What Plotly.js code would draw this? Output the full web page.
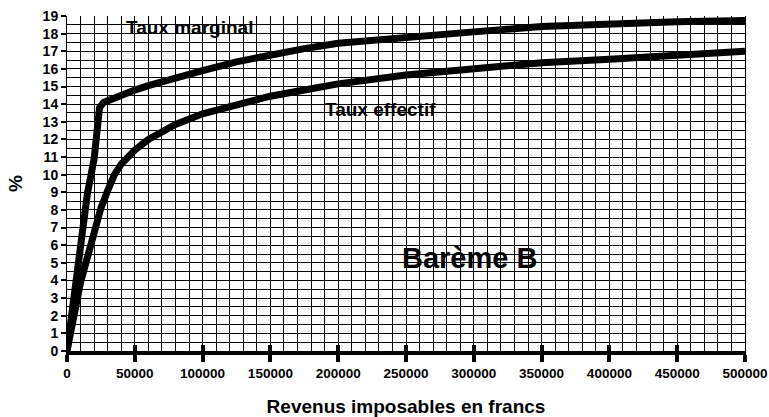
<!DOCTYPE html>
<html>
<head>
<meta charset="utf-8">
<script src="https://cdn.plot.ly/plotly-3.0.1.min.js"></script>
<style>html,body{margin:0;padding:0;background:#fff;}#chart{width:769px;height:417px;}</style>
</head>
<body>
<div id="chart"></div>
<script>
// Revenus imposables (francs)
const revMarginal = [0, 5000, 10000, 15000, 20000, 22000, 24000, 27000, 30000, 40000, 50000, 60000, 80000, 100000, 125000, 150000, 175000, 200000, 250000, 300000, 350000, 400000, 450000, 500000];
const tauxMarginal = [0, 3.1, 6.0, 8.9, 10.9, 12.7, 13.8, 14.1, 14.2, 14.5, 14.8, 15.05, 15.5, 15.9, 16.4, 16.8, 17.15, 17.45, 17.8, 18.1, 18.4, 18.57, 18.67, 18.75];
const revEffectif = [0, 5000, 10000, 15000, 20000, 25000, 30000, 35000, 40000, 50000, 60000, 80000, 100000, 125000, 150000, 175000, 200000, 250000, 300000, 350000, 400000, 450000, 500000];
const tauxEffectif = [0, 2.1, 3.9, 5.3, 6.7, 8.1, 9.1, 10.0, 10.6, 11.4, 12.0, 12.85, 13.45, 14.0, 14.45, 14.8, 15.15, 15.65, 16.0, 16.35, 16.55, 16.8, 17.0];
const xTickVals = [0, 50000, 100000, 150000, 200000, 250000, 300000, 350000, 400000, 450000, 500000];
const yTickVals = [0,1,2,3,4,5,6,7,8,9,10,11,12,13,14,15,16,17,18,19];
const labelMarginal = "Taux marginal";
const labelEffectif = "Taux effectif";
const labelBareme = "Barème B";

const font = "Arial, 'Liberation Sans', sans-serif";
const traces = [
  {x: revMarginal, y: tauxMarginal, mode: 'lines', line: {color: '#000', width: 7}, hoverinfo: 'skip', showlegend: false},
  {x: revEffectif, y: tauxEffectif, mode: 'lines', line: {color: '#000', width: 7}, hoverinfo: 'skip', showlegend: false},
  {x: revEffectif, y: tauxEffectif, xaxis: 'x2', mode: 'lines', line: {color: 'rgba(0,0,0,0)', width: 0}, hoverinfo: 'skip', showlegend: false}
];
const layout = {
  width: 769, height: 417,
  margin: {l: 67, r: 24, t: 16, b: 66},
  paper_bgcolor: '#fff', plot_bgcolor: '#fff',
  font: {family: font, color: '#000'},
  xaxis: {
    range: [0, 500000], tickvals: xTickVals, ticktext: xTickVals.map(String),
    ticks: 'outside', ticklen: 7, tickwidth: 4, tickcolor: '#000',
    ticklabeloverflow: 'allow', ticklabelstandoff: 0,
    showline: true, linewidth: 4, linecolor: '#000',
    showgrid: true, gridcolor: '#000', gridwidth: 1,
    minor: {dtick: 10000, tick0: 0, showgrid: true, gridcolor: '#000', gridwidth: 1, ticks: ''},
    zeroline: false,
    tickfont: {family: font, size: 13.5, color: '#000', weight: 'bold'},
    title: {text: '<b>Revenus imposables en francs</b>', font: {family: font, size: 19, color: '#000'}, standoff: 20}
  },
  xaxis2: {
    overlaying: 'x', side: 'bottom', range: [0, 500000], tickvals: xTickVals,
    ticks: 'inside', ticklen: 6, tickwidth: 4, tickcolor: '#000',
    showticklabels: false, showgrid: false, zeroline: false, showline: false
  },
  yaxis: {
    range: [0, 19], tickvals: yTickVals, ticktext: yTickVals.map(String),
    ticks: 'outside', ticklen: 5, tickwidth: 2, tickcolor: '#000',
    showline: true, linewidth: 1, linecolor: '#000', mirror: true,
    showgrid: true, gridcolor: '#000', gridwidth: 1,
    minor: {dtick: 0.5, tick0: 0, showgrid: true, gridcolor: '#000', gridwidth: 1, ticks: ''},
    zeroline: false,
    tickfont: {family: font, size: 14, color: '#000', weight: 'bold'},
    title: {text: '<b>%</b>', font: {family: font, size: 19, color: '#000'}, standoff: 14}
  },
  annotations: [
    {x: 0.18, y: 0.965, xref: 'paper', yref: 'paper', text: '<b>' + labelMarginal + '</b>', showarrow: false, font: {family: font, size: 19, color: '#000'}, xanchor: 'center', yanchor: 'middle'},
    {x: 0.462, y: 0.72, xref: 'paper', yref: 'paper', text: '<b>' + labelEffectif + '</b>', showarrow: false, font: {family: font, size: 19, color: '#000'}, xanchor: 'center', yanchor: 'middle'},
    {x: 0.594, y: 0.278, xref: 'paper', yref: 'paper', text: '<b>' + labelBareme + '</b>', showarrow: false, font: {family: font, size: 29, color: '#000'}, xanchor: 'center', yanchor: 'middle'}
  ]
};
Plotly.newPlot('chart', traces, layout, {displayModeBar: false, staticPlot: true});
</script>
</body>
</html>
